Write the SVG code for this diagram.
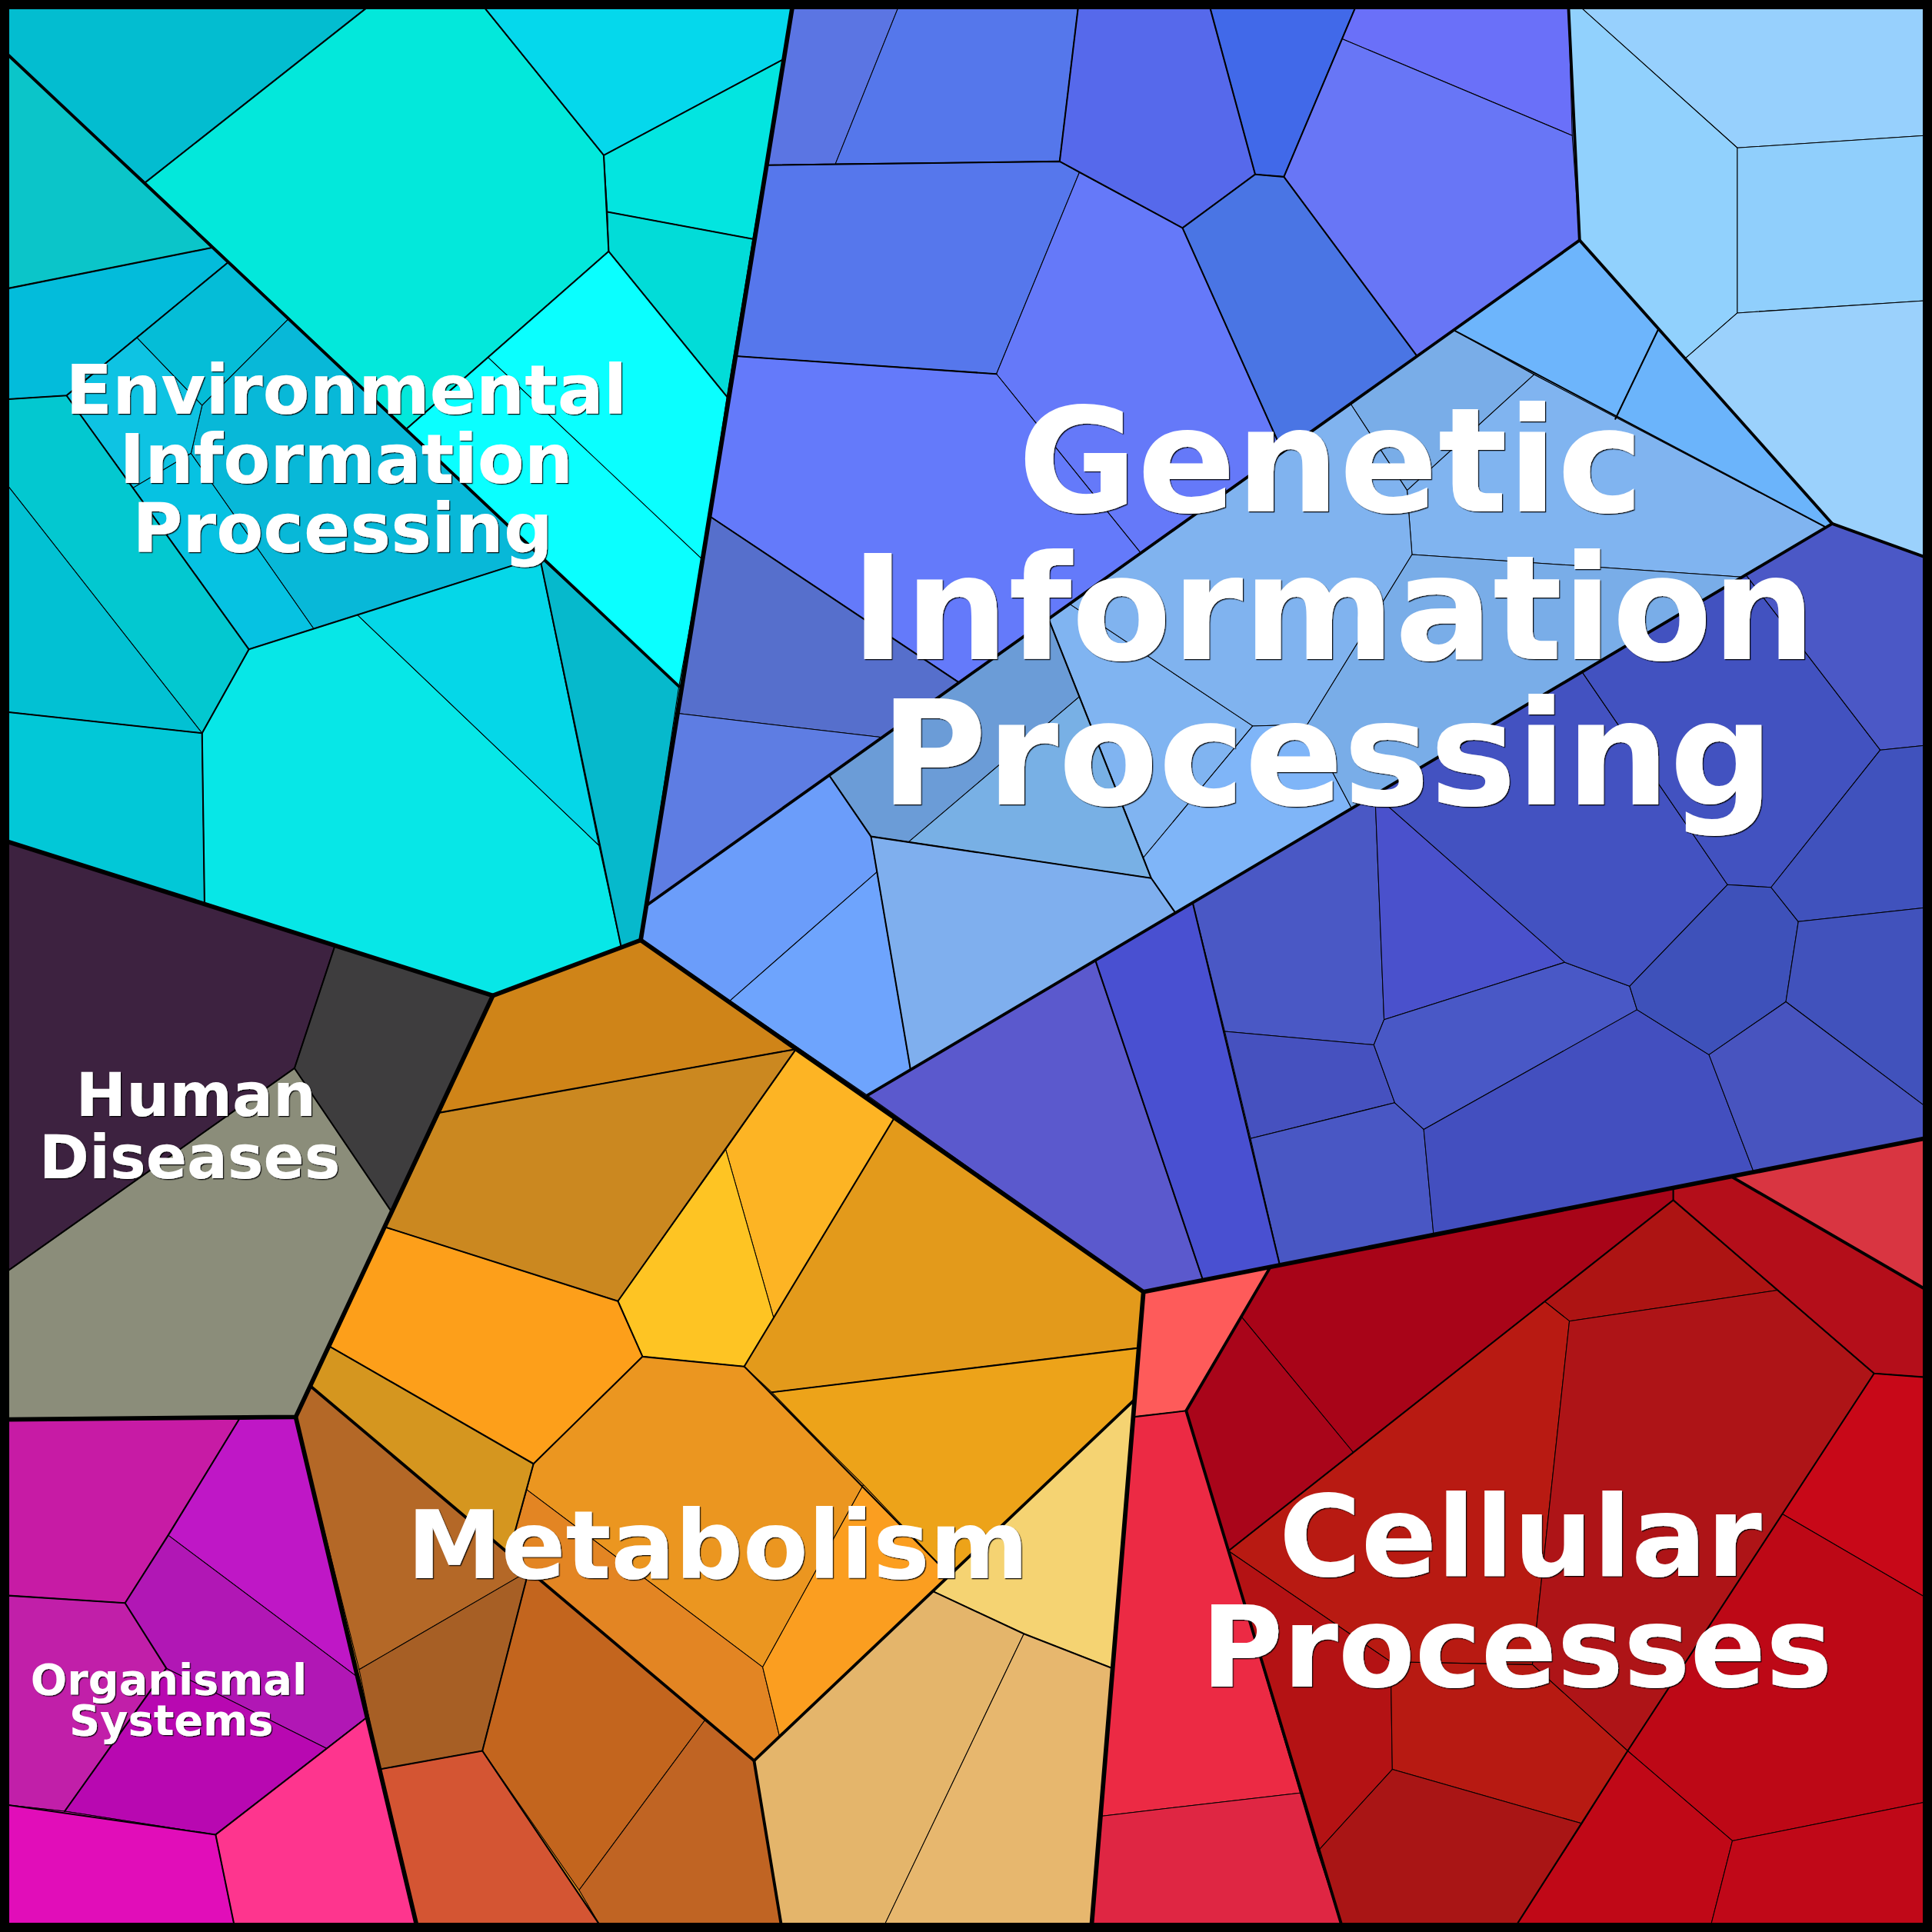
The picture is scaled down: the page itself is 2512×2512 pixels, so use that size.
<svg xmlns="http://www.w3.org/2000/svg" width="2512" height="2512" viewBox="0 0 2512 2512">
<defs>
<style>
.c{stroke:#000;stroke-width:0.65;stroke-linejoin:round}
.m{fill:none;stroke:#000;stroke-width:1.3;stroke-linejoin:round;stroke-linecap:round}
.l2{fill:none;stroke:#000;stroke-width:2.4;stroke-linejoin:round;stroke-linecap:round}
.t{fill:none;stroke:#000;stroke-width:3.6;stroke-linejoin:round;stroke-linecap:round}
.lbl{font-family:"DejaVu Sans","Liberation Sans",sans-serif;font-weight:bold;fill:#fff;text-anchor:middle;filter:url(#sh)}
</style>
<filter id="sh" x="-5%" y="-5%" width="110%" height="110%">
<feDropShadow dx="0.8" dy="0.8" stdDeviation="0.35" flood-color="#000" flood-opacity="0.9"/>
</filter>
</defs>
<rect width="2512" height="2512" fill="#000"/>
<g transform="scale(1.602041)">
<g id="environmental">
<polygon points="6,6 643,6 520,763 400,808 6,683" fill="#05d0dc"/>
<polygon class="c" fill="#03bdd0" points="6,6 298,6 118,148 6,44"/>
<polygon class="c" fill="#03e8db" points="298,6 393,6 490,126 494,204 330,348 118,148"/>
<polygon class="c" fill="#05d8ec" points="393,6 643,6 636,48 490,126"/>
<polygon class="c" fill="#03e5e0" points="490,126 636,48 611,194 493,172"/>
<polygon class="c" fill="#02dcd8" points="493,172 611,194 590,322 494,204"/>
<polygon class="c" fill="#0affff" points="494,204 590,322 570,454 396,290"/>
<polygon class="c" fill="#0affff" points="396,290 570,454 551,557 330,348"/>
<polygon class="c" fill="#0bc5c9" points="6,44 172,201 7,234"/>
<polygon class="c" fill="#03bcdb" points="7,234 172,201 185,213 111,274 54,321 7,324"/>
<polygon class="c" fill="#05bdd7" points="185,213 234,259 164,329 111,274"/>
<polygon class="c" fill="#08b8d8" points="234,259 438,452 254.7,510.4 155,368 164,329"/>
<polygon class="c" fill="#0ec3e3" points="111,274 164,329 155,368 108,396 54,321"/>
<polygon class="c" fill="#06c2e2" points="108,396 155,368 254.7,510.4 202,527"/>
<polygon class="c" fill="#03c8d0" points="7,324 54,321 202,527 164,595 7,395"/>
<polygon class="c" fill="#02c1d3" points="7,395 164,595 7,578"/>
<polygon class="c" fill="#02c8d7" points="7,578 164,595 166,734 6,683"/>
<polygon class="c" fill="#07e7e7" points="164,595 202,527 290,499 486,686 504,768 400,808 166,734"/>
<polygon class="c" fill="#05d7e8" points="290,499 438,452 486,686"/>
<polygon class="c" fill="#06b9cc" points="438,452 551,557 520,763 504,768"/>
</g>
<g id="human-diseases">
<polygon class="c" fill="#3d2240" points="6,683 272,767 239,867 7,1031"/>
<polygon class="c" fill="#3e3d3e" points="272,767 400,808 317.5,983 239,867"/>
<polygon class="c" fill="#8b8d7a" points="7,1031 239,867 317.5,983 240,1150 6,1152"/>
</g>
<g id="organismal-systems">
<polygon class="c" fill="#c71ba5" points="6,1152 194,1152 136.5,1246 101.5,1301 7,1295"/>
<polygon class="c" fill="#bf17c6" points="194,1152 240,1150 290,1361 136.5,1246"/>
<polygon class="c" fill="#b117b5" points="136.5,1246 290,1361 297.5,1394 265,1419 135,1354 101.5,1301"/>
<polygon class="c" fill="#c11fa9" points="7,1295 101.5,1301 135,1354 52.5,1470 7,1465"/>
<polygon class="c" fill="#b808b1" points="135,1354 265,1419 175,1489 52.5,1470"/>
<polygon class="c" fill="#e10db9" points="7,1465 52.5,1470 175,1489 190,1562 6,1562"/>
<polygon class="c" fill="#fe358e" points="175,1489 297.5,1394 338,1562 190,1562"/>
</g>
<g id="metabolism">
<polygon points="400,808 520,763 928,1048.5 886,1562 338,1562 240,1150" fill="#e09020"/>
<polygon class="c" fill="#cf8418" points="400,808 520,763 646,851.5 357,903"/>
<polygon class="c" fill="#cb8820" points="357,903 646,851.5 501.5,1056 313,996"/>
<polygon class="c" fill="#fdb424" points="646,851.5 726,907 628,1070 589,933"/>
<polygon class="c" fill="#fec423" points="589,933 628,1070 604,1109 521.5,1101 501.5,1056"/>
<polygon class="c" fill="#e39a1b" points="726,907 928,1048.5 924,1094 626.5,1130 604,1109"/>
<polygon class="c" fill="#eda319" points="626.5,1130 924,1094 920.8,1136 770.5,1278.3"/>
<polygon class="c" fill="#fd9f1a" points="313,996 501.5,1056 521.5,1101 433,1188 268,1093"/>
<polygon class="c" fill="#d5961f" points="268,1093 433,1188 413,1261 252,1125"/>
<polygon class="c" fill="#eb9620" points="521.5,1101 604,1109 700.7,1205 619,1353 427.5,1209 433,1188"/>
<polygon class="c" fill="#e38523" points="427.5,1209 619,1353 632.7,1409.4 612,1429 413,1261"/>
<polygon class="c" fill="#fb9e20" points="700.7,1205 770.5,1278.3 632.7,1409.4 619,1353"/>
<polygon class="c" fill="#f5d372" points="757,1291.4 920.8,1136 903,1354 831,1326"/>
<polygon class="c" fill="#e4b56b" points="612,1429 757,1291.4 831,1326 718,1562 634,1562"/>
<polygon class="c" fill="#e7b76e" points="831,1326 903,1354 886,1562 718,1562"/>
<polygon class="c" fill="#b46827" points="240,1150 252,1125 429,1275 291.5,1355"/>
<polygon class="c" fill="#a75f25" points="291.5,1355 429,1275 391.5,1421 308,1436"/>
<polygon class="c" fill="#c3651e" points="429,1275 572.5,1395.6 470,1534 391.5,1421"/>
<polygon class="c" fill="#c06423" points="572.5,1395.6 612,1429 634,1562 486.5,1562 470,1534"/>
<polygon class="c" fill="#d45533" points="308,1436 391.5,1421 486.5,1562 338,1562"/>
</g>
<g id="genetic-information-processing">
<polygon points="643,6 1562,6 1562,924 928,1048.5 520,763" fill="#5a70d8"/>
<polygon class="c" fill="#5b75e3" points="643,6 729,6 678,133 622,134"/>
<polygon class="c" fill="#5577eb" points="729,6 875,6 860,131 678,133"/>
<polygon class="c" fill="#5669eb" points="875,6 982,6 1018.7,141.5 959.7,185 860,131"/>
<polygon class="c" fill="#4169e9" points="982,6 1100,6 1042,143.5 1018.7,141.5"/>
<polygon class="c" fill="#6a70f9" points="1100,6 1273,6 1276,110 1089.2,31.5"/>
<polygon class="c" fill="#6876f6" points="1089.2,31.5 1276,110 1282,195 1150,289 1042,143.5"/>
<polygon class="c" fill="#4a75e4" points="1018.7,141.5 1042,143.5 1150,289 1041,367 959.7,185"/>
<polygon class="c" fill="#5677ec" points="622,134 860,131 876,140 808.7,303.5 597,289"/>
<polygon class="c" fill="#6579f9" points="876,140 959.7,185 1041,367 926,449 808.7,303.5"/>
<polygon class="c" fill="#647afa" points="597,289 808.7,303.5 926,449 778.5,554 576,419"/>
<polygon class="c" fill="#566fcc" points="576,419 778.5,554 716,598.5 550,579"/>
<polygon class="c" fill="#5e7de3" points="550,579 716,598.5 524.5,735"/>
<polygon class="c" fill="#6db5fc" points="1180,268 1282,195 1346,267 1311,340"/>
<polygon class="c" fill="#6bb4fb" points="1311,340 1346,267 1487,425 1482,428"/>
<polygon class="c" fill="#79ade8" points="1096,327.6 1180,268 1245,304 1142,398"/>
<polygon class="c" fill="#80b4f0" points="1245,304 1482,428 1414,468.3 1146,450 1142,398"/>
<polygon class="c" fill="#6b9cd7" points="672.9,629.2 851,502.2 876,565.5 737.3,683.4 706.9,678.9"/>
<polygon class="c" fill="#78b0e5" points="737.3,683.4 876,565.5 934.3,712.7"/>
<polygon class="c" fill="#80b4f1" points="851,502.2 868,490.1 1016.7,589.2 928,696"/>
<polygon class="c" fill="#80b3ef" points="868,490.1 1096,327.6 1142,398 1146,450 1061,588 1016.7,589.2"/>
<polygon class="c" fill="#7fb5f8" points="928,696 1016.7,589.2 1061,588 1097,656.1 954,740.9 934.3,712.7"/>
<polygon class="c" fill="#79ade8" points="1061,588 1146,450 1414,468.3 1097,656.1"/>
<polygon class="c" fill="#6b9dfa" points="524.5,735 672.9,629.2 706.9,678.9 711.8,707.6 592.3,812.3 520,763"/>
<polygon class="c" fill="#6ea4fd" points="592.3,812.3 711.8,707.6 739,868.3 704,889"/>
<polygon class="c" fill="#7fafee" points="706.9,678.9 934.3,712.7 954,740.9 739,868.3"/>
<polygon class="c" fill="#97d0fd" points="1283,6 1562,6 1562,110 1410,120"/>
<polygon class="c" fill="#91d1fd" points="1273,6 1283,6 1410,120 1410,254 1367.7,291 1282,195"/>
<polygon class="c" fill="#90cffc" points="1410,120 1562,110 1562,244 1410,254"/>
<polygon class="c" fill="#9bd1fc" points="1367.7,291 1410,254 1562,244 1562,452 1487,425"/>
<polygon class="c" fill="#5b59cd" points="704,889 889,779.4 976.3,1039 928,1048.5"/>
<polygon class="c" fill="#4950d1" points="889,779.4 968,732.6 1038.7,1026.8 976.3,1039"/>
<polygon class="c" fill="#4a58c5" points="968,732.6 1116,645 1123.3,827.5 1115,848 994,837"/>
<polygon class="c" fill="#4a51cc" points="1116,645 1270,781 1123.3,827.5"/>
<polygon class="c" fill="#4651bf" points="994,837 1115,848 1132,895 1015,924"/>
<polygon class="c" fill="#4957c4" points="1015,924 1132,895 1155.5,916.6 1163.5,1002.2 1038.7,1026.8"/>
<polygon class="c" fill="#4958c6" points="1115,848 1123.3,827.5 1270,781 1322.6,800.4 1328.6,819.5 1155.5,916.6 1132,895"/>
<polygon class="c" fill="#434fbf" points="1155.5,916.6 1328.6,819.5 1387,856 1423.3,951.2 1163.5,1002.2"/>
<polygon class="c" fill="#4352c1" points="1116,645 1284,545.3 1402,718 1322.6,800.4 1270,781"/>
<polygon class="c" fill="#4252c0" points="1284,545.3 1417,466.5 1526,608.7 1437.4,720.2 1402,718"/>
<polygon class="c" fill="#4b58c6" points="1417,466.5 1487,425 1562,452 1562,605 1526,608.7"/>
<polygon class="c" fill="#3e51ba" points="1402,718 1437.4,720.2 1459.5,748 1449.4,813 1387,856 1328.6,819.5 1322.6,800.4"/>
<polygon class="c" fill="#4052bd" points="1437.4,720.2 1526,608.7 1562,605 1562,736.7 1459.5,748"/>
<polygon class="c" fill="#4152bc" points="1459.5,748 1562,736.7 1562,897.5 1449.4,813"/>
<polygon class="c" fill="#4854bf" points="1387,856 1449.4,813 1562,897.5 1562,924 1423.3,951.2"/>
</g>
<g id="cellular-processes">
<polygon points="928,1048.5 1562,924 1562,1562 886,1562" fill="#b51218"/>
<polygon class="c" fill="#fe5b5a" points="928,1048.5 1031,1028.3 962.7,1145 919.7,1150"/>
<polygon class="c" fill="#ec2a44" points="919.7,1150 962.7,1145 1056.4,1455 893.2,1474"/>
<polygon class="c" fill="#df2643" points="893.2,1474 1056.4,1455 1088.7,1562 886,1562"/>
<polygon class="c" fill="#d93541" points="1405,954.8 1562,924 1562,1046"/>
<polygon class="c" fill="#a80418" points="1031,1028.3 1358,964.5 1358,974 1098.7,1179.3 1007.6,1068.7"/>
<polygon class="c" fill="#a9051a" points="1007.6,1068.7 1098.7,1179.3 997,1258.7 962.7,1145"/>
<polygon class="c" fill="#ad1413" points="1358,974 1442.7,1047.1 1273.7,1072.2 1253.7,1056.3"/>
<polygon class="c" fill="#b40e1a" points="1358,964.5 1405,954.8 1562,1046 1562,1117.7 1521,1114.7 1442.7,1047.1 1358,974"/>
<polygon class="c" fill="#b81a12" points="997,1258.7 1253.7,1056.3 1273.7,1072.2 1243.7,1351 1128.7,1348.7"/>
<polygon class="c" fill="#ae1417" points="1273.7,1072.2 1442.7,1047.1 1521,1114.7 1446.6,1228.7 1321,1421 1243.7,1351"/>
<polygon class="c" fill="#b41214" points="997,1258.7 1128.7,1348.7 1130,1436 1069.3,1502.7"/>
<polygon class="c" fill="#b71a12" points="1128.7,1348.7 1243.7,1351 1321,1421 1284,1480 1130,1436"/>
<polygon class="c" fill="#a91515" points="1130,1436 1284,1480 1231,1562 1088.7,1562 1069.3,1502.7"/>
<polygon class="c" fill="#c80818" points="1521,1114.7 1562,1117.7 1562,1296 1446.6,1228.7"/>
<polygon class="c" fill="#bd0816" points="1446.6,1228.7 1562,1296 1562,1462.7 1406,1494 1321,1421"/>
<polygon class="c" fill="#c00817" points="1321,1421 1406,1494 1388.7,1562 1231,1562 1284,1480"/>
<polygon class="c" fill="#c00818" points="1406,1494 1562,1462.7 1562,1562 1388.7,1562"/>
</g>
<g id="connectors">
<g class="m-lines">
<polyline class="m" points="298,6 118,148"/>
<polyline class="m" points="393,6 490,126 494,204 330,348"/>
<polyline class="m" points="636,48 490,126"/>
<polyline class="m" points="493,172 611,194"/>
<polyline class="m" points="494,204 590,322"/>
<polyline class="m" points="7,234 172,201"/>
<polyline class="m" points="185,213 111,274 54,321 7,324"/>
<polyline class="m" points="54,321 202,527 164,595 7,578"/>
<polyline class="m" points="164,595 166,734"/>
<polyline class="m" points="202,527 438,452 504,768"/>
<polyline class="m" points="272,767 239,867 7,1031"/>
<polyline class="m" points="239,867 317.5,983"/>
<polyline class="m" points="194,1152 136.5,1246 101.5,1301 7,1295"/>
<polyline class="m" points="101.5,1301 135,1354 52.5,1470"/>
<polyline class="m" points="7,1465 175,1489 190,1562"/>
<polyline class="m" points="175,1489 297.5,1394"/>
<polyline class="m" points="357,903 646,851.5"/>
<polyline class="m" points="646,851.5 501.5,1056 313,996"/>
<polyline class="m" points="501.5,1056 521.5,1101 604,1109"/>
<polyline class="m" points="604,1109 726,907"/>
<polyline class="m" points="268,1093 433,1188 521.5,1101"/>
<polyline class="m" points="433,1188 413,1261"/>
<polyline class="m" points="604,1109 770.5,1278.3"/>
<polyline class="m" points="626.5,1130 924,1094"/>
<polyline class="m" points="757,1291.4 831,1326 903,1354"/>
<polyline class="m" points="429,1275 391.5,1421 308,1436"/>
<polyline class="m" points="391.5,1421 486.5,1562"/>
<polyline class="m" points="622,134 860,131 959.7,185 1018.7,141.5 982,6"/>
<polyline class="m" points="875,6 860,131"/>
<polyline class="m" points="1018.7,141.5 1042,143.5 1100,6"/>
<polyline class="m" points="959.7,185 1041,367"/>
<polyline class="m" points="1042,143.5 1150,289"/>
<polyline class="m" points="597,289 808.7,303.5"/>
<polyline class="m" points="576,419 778.5,554"/>
<polyline class="m" points="672.9,629.2 706.9,678.9 934.3,712.7 954,740.9"/>
<polyline class="m" points="706.9,678.9 739,868.3"/>
<polyline class="m" points="851,502.2 934.3,712.7"/>
<polyline class="m" points="1180,268 1482,428"/>
<polyline class="m" points="1346,267 1311,340"/>
<polyline class="m" points="889,779.4 976.3,1039"/>
<polyline class="m" points="968,732.6 1038.7,1026.8"/>
<polyline class="m" points="962.7,1145 919.7,1150"/>
<polyline class="m" points="1358,964.5 1358,974 997,1258.7"/>
<polyline class="m" points="1358,974 1521,1114.7 1562,1117.7"/>
<polyline class="m" points="1521,1114.7 1321,1421 1231,1562"/>
</g>
<g class="l2-lines">
<polyline class="l2" points="6,44 551,557"/>
<polyline class="l2" points="252,1125 612,1429 920.8,1136"/>
<polyline class="l2" points="612,1429 634,1562"/>
<polyline class="l2" points="524.5,735 1282,195"/>
<polyline class="l2" points="1273,6 1282,195 1487,425 1562,452"/>
<polyline class="l2" points="704,889 1487,425"/>
<polyline class="l2" points="1031,1028.3 962.7,1145 1088.7,1562"/>
<polyline class="l2" points="1405,954.8 1562,1046"/>
</g>
<g class="t-lines">
<polyline class="t" points="643,6 520,763 400,808 6,683"/>
<polyline class="t" points="400,808 240,1150 6,1152"/>
<polyline class="t" points="240,1150 338,1562"/>
<polyline class="t" points="520,763 928,1048.5 886,1562"/>
<polyline class="t" points="928,1048.5 1562,924"/>
</g>
</g>
<rect x="3.75" y="3.75" width="1560.5" height="1560.5" fill="none" stroke="#000" stroke-width="7.5"/>
<g id="labels">
<text class="lbl" font-size="55.5"><tspan x="281" y="336">Environmental</tspan><tspan x="281" y="392">Information</tspan><tspan x="278" y="448">Processing</tspan></text>
<text class="lbl" font-size="118"><tspan x="1080" y="415">Genetic</tspan><tspan x="1082" y="535">Information</tspan><tspan x="1077" y="653">Processing</tspan></text>
<text class="lbl" font-size="49"><tspan x="159" y="906">Human</tspan><tspan x="154" y="956">Diseases</tspan></text>
<text class="lbl" font-size="34.8"><tspan x="137" y="1375">Organismal</tspan><tspan x="139" y="1408">Systems</tspan></text>
<text class="lbl" font-size="77" x="582.5" y="1281">Metabolism</text>
<text class="lbl" font-size="90.7"><tspan x="1234" y="1279">Cellular</tspan><tspan x="1231" y="1369">Processes</tspan></text>
</g>
</g>
</svg>
